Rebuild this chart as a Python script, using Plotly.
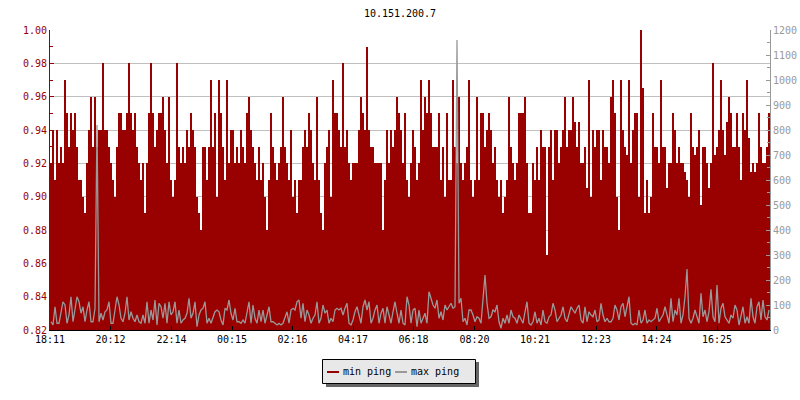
import plotly.graph_objects as go

# ---------------- data ----------------
title_text = "10.151.200.7"
start_label = "18:11"
step_minutes = 4

min_ping = [
    0.92, 0.94, 0.91, 0.94, 0.92, 0.93, 0.92, 0.97, 0.95, 0.93,
    0.95, 0.94, 0.95, 0.93, 0.91, 0.91, 0.90, 0.89, 0.92, 0.94,
    0.96, 0.93, 0.96, 0.93, 0.94, 0.94, 0.98, 0.94, 0.94, 0.93,
    0.92, 0.91, 0.90, 0.93, 0.95, 0.95, 0.94, 0.94, 0.95, 0.98,
    0.95, 0.94, 0.95, 0.93, 0.92, 0.91, 0.92, 0.89, 0.92, 0.95,
    0.98, 0.95, 0.93, 0.94, 0.95, 0.95, 0.96, 0.94, 0.92, 0.96,
    0.91, 0.90, 0.91, 0.98, 0.93, 0.92, 0.93, 0.92, 0.94, 0.93,
    0.95, 0.94, 0.93, 0.90, 0.89, 0.88, 0.93, 0.93, 0.91, 0.93,
    0.97, 0.93, 0.95, 0.90, 0.97, 0.95, 0.93, 0.91, 0.97, 0.92,
    0.94, 0.94, 0.92, 0.93, 0.92, 0.94, 0.93, 0.92, 0.95, 0.96,
    0.94, 0.93, 0.92, 0.91, 0.93, 0.91, 0.92, 0.90, 0.88, 0.91,
    0.95, 0.93, 0.92, 0.91, 0.92, 0.93, 0.96, 0.93, 0.92, 0.91,
    0.94, 0.90, 0.91, 0.89, 0.91, 0.91, 0.93, 0.94, 0.93, 0.95,
    0.94, 0.92, 0.91, 0.96, 0.91, 0.89, 0.88, 0.92, 0.93, 0.94,
    0.90, 0.97, 0.95, 0.95, 0.94, 0.93, 0.98, 0.93, 0.94, 0.92,
    0.91, 0.92, 0.92, 0.92, 0.94, 0.96, 0.95, 0.94, 0.99, 0.94,
    0.93, 0.93, 0.92, 0.92, 0.92, 0.92, 0.88, 0.91, 0.94, 0.92,
    0.94, 0.93, 0.94, 0.96, 0.95, 0.94, 0.92, 0.95, 0.91, 0.90,
    0.92, 0.94, 0.93, 0.91, 0.92, 0.97, 0.94, 0.96, 0.95, 0.97,
    0.95, 0.93, 0.93, 0.93, 0.95, 0.91, 0.93, 0.90, 0.95, 0.91,
    0.91, 0.97, 0.93, 0.92, 0.96, 0.92, 0.91, 0.92, 0.93, 0.97,
    0.91, 0.90, 0.91, 0.96, 0.91, 0.95, 0.95, 0.93, 0.94, 0.95,
    0.94, 0.92, 0.93, 0.91, 0.90, 0.91, 0.89, 0.90, 0.91, 0.96,
    0.93, 0.92, 0.91, 0.92, 0.95, 0.95, 0.95, 0.96, 0.92, 0.89,
    0.89, 0.92, 0.91, 0.93, 0.91, 0.94, 0.93, 0.93, 0.865, 0.93,
    0.94, 0.91, 0.94, 0.94, 0.92, 0.93, 0.94, 0.96, 0.93, 0.94,
    0.94, 0.96, 0.945, 0.93, 0.945, 0.92, 0.92, 0.93, 0.905, 0.97,
    0.90, 0.94, 0.93, 0.94, 0.94, 0.91, 0.94, 0.93, 0.93, 0.92,
    0.96, 0.97, 0.95, 0.90, 0.88, 0.97, 0.94, 0.93, 0.925, 0.97,
    0.92, 0.94, 0.95, 0.95, 0.90, 1.00, 0.965, 0.89, 0.91, 0.89,
    0.90, 0.95, 0.93, 0.93, 0.92, 0.97, 0.93, 0.93, 0.905, 0.92,
    0.92, 0.95, 0.94, 0.92, 0.93, 0.92, 0.92, 0.915, 0.91, 0.90,
    0.95, 0.93, 0.925, 0.93, 0.94, 0.895, 0.93, 0.93, 0.92, 0.905,
    0.92, 0.98, 0.925, 0.93, 0.94, 0.97, 0.94, 0.925, 0.945, 0.96,
    0.95, 0.93, 0.93, 0.95, 0.93, 0.91, 0.95, 0.94, 0.97, 0.935,
    0.915, 0.92, 0.915, 0.92, 0.95, 0.93, 0.92, 0.92, 0.93, 0.95,
]

max_ping = [
    33, 20, 93, 27, 27, 67, 113, 100, 27, 60,
    133, 33, 80, 133, 113, 67, 93, 33, 80, 113,
    33, 33, 87, 820, 33, 67, 40, 73, 80, 113,
    27, 27, 80, 133, 100, 47, 33, 67, 133, 40,
    73, 47, 33, 60, 33, 27, 60, 27, 113, 27,
    80, 40, 120, 20, 107, 93, 47, 107, 27, 113,
    60, 73, 113, 27, 80, 27, 40, 47, 67, 127,
    47, 67, 113, 13, 60, 80, 87, 113, 27, 47,
    27, 47, 73, 80, 73, 40, 20, 87, 80, 120,
    67, 40, 87, 33, 33, 27, 40, 27, 67, 113,
    27, 100, 47, 27, 80, 33, 80, 27, 60, 93,
    33, 33, 27, 20, 27, 20, 27, 47, 73, 27,
    80, 87, 80, 113, 120, 47, 107, 33, 80, 60,
    27, 47, 60, 113, 27, 47, 100, 67, 80, 27,
    47, 33, 80, 87, 80, 87, 60, 87, 107, 27,
    20, 40, 73, 93, 53, 27, 93, 120, 80, 113,
    27, 47, 80, 100, 27, 67, 87, 27, 93, 53,
    27, 73, 113, 67, 27, 80, 27, 20, 133, 100,
    27, 80, 87, 13, 80, 27, 47, 67, 27, 153,
    127, 100, 87, 120, 47, 73, 40, 100, 80, 93,
    107, 87, 93, 1160, 107, 127, 33, 47, 20, 80,
    80, 60, 33, 53, 47, 27, 136, 220, 107, 47,
    53, 80, 73, 100, 33, 7, 47, 27, 60, 27,
    80, 53, 47, 27, 60, 40, 27, 73, 113, 27,
    20, 33, 73, 27, 47, 20, 80, 33, 27, 53,
    60, 107, 80, 33, 47, 60, 93, 47, 33, 60,
    93, 80, 67, 87, 100, 40, 27, 93, 33, 73,
    60, 53, 80, 33, 40, 107, 60, 33, 47, 33,
    33, 47, 100, 80, 40, 93, 107, 53, 87, 133,
    27, 20, 27, 20, 80, 27, 40, 80, 27, 40,
    33, 40, 47, 87, 33, 47, 60, 93, 53, 27,
    127, 33, 80, 60, 127, 27, 60, 133, 244, 47,
    27, 47, 80, 53, 27, 147, 53, 80, 33, 73,
    163, 53, 33, 180, 27, 87, 107, 53, 40, 27,
    60, 47, 100, 80, 20, 60, 93, 27, 53, 27,
    127, 53, 27, 93, 113, 40, 120, 53, 40, 80,
]

tick_labels = ["18:11", "20:12", "22:14", "00:15", "02:16", "04:17",
               "06:18", "08:20", "10:21", "12:23", "14:24", "16:25"]

series_names = ["min ping", "max ping"]
left_range = [0.82, 1.00]
right_range = [0, 1200]
total_minutes = 1440

# ---------------- helpers ----------------
def to_min(lbl):
    h, m = lbl.split(":")
    return int(h) * 60 + int(m)

start = to_min(start_label)
tick_vals = [(to_min(t) - start) % 1440 for t in tick_labels]
x_vals = [step_minutes * i + step_minutes / 2 for i in range(len(min_ping))]

RED = "#990000"
GRAY = "#999999"
FONT = "DejaVu Sans Mono"

fig = go.Figure()
fig.add_trace(go.Bar(
    x=x_vals, y=min_ping, name=series_names[0], width=step_minutes,
    marker=dict(color=RED, line=dict(width=0)), showlegend=False,
    hoverinfo="skip",
))
fig.add_trace(go.Scatter(
    x=x_vals, y=max_ping, name=series_names[1], yaxis="y2", mode="lines",
    line=dict(color=GRAY, width=1.3), showlegend=False, hoverinfo="skip",
))

L, R, T, B = 50, 30, 30, 70
W, H = 800, 400
pw, ph = W - L - R, H - T - B

def px(x):
    return (x - L) / pw

def py(y):
    return (H - B - y) / ph

shapes = [
    # legend shadow
    dict(type="rect", xref="paper", yref="paper", layer="above",
         x0=px(326), x1=px(479), y0=py(387), y1=py(362),
         fillcolor="#666666", line=dict(width=0)),
    # legend box
    dict(type="rect", xref="paper", yref="paper", layer="above",
         x0=px(322.5), x1=px(475.5), y0=py(383.5), y1=py(359.5),
         fillcolor="#e8e8e8", line=dict(color="black", width=1)),
    dict(type="line", xref="paper", yref="paper", layer="above",
         x0=px(327), x1=px(339), y0=py(372), y1=py(372),
         line=dict(color=RED, width=2)),
    dict(type="line", xref="paper", yref="paper", layer="above",
         x0=px(395), x1=px(407), y0=py(372), y1=py(372),
         line=dict(color=GRAY, width=2)),
]
annotations = [
    dict(text=series_names[0], xref="paper", yref="paper", x=px(341), y=py(371.5),
         xanchor="left", yanchor="middle", showarrow=False,
         font=dict(family=FONT, size=10, color="black")),
    dict(text=series_names[1], xref="paper", yref="paper", x=px(409), y=py(371.5),
         xanchor="left", yanchor="middle", showarrow=False,
         font=dict(family=FONT, size=10, color="black")),
]

fig.update_layout(
    width=W, height=H,
    margin=dict(l=L, r=R, t=T, b=B, pad=0, autoexpand=False),
    paper_bgcolor="white", plot_bgcolor="white",
    bargap=0,
    showlegend=False,
    font=dict(family=FONT, size=10, color="black"),
    title=dict(text=title_text, x=0.5, xanchor="center", y=1 - 13 / H,
               yanchor="middle", font=dict(family=FONT, size=10, color="black")),
    xaxis=dict(
        range=[0, total_minutes], tickvals=tick_vals, ticktext=tick_labels,
        showgrid=False, zeroline=False, showline=True, linecolor="black",
        linewidth=1, ticks="inside", ticklen=4, tickcolor="black",
        automargin=False,
        tickfont=dict(family=FONT, size=10, color="black"),
    ),
    yaxis=dict(
        range=left_range, dtick=0.02, tick0=0.82, tickformat=".2f",
        showgrid=True, gridcolor="#c0c0c0", gridwidth=1, zeroline=False,
        showline=True, linecolor=RED, linewidth=1,
        ticks="inside", ticklen=4, tickcolor=RED, automargin=False,
        minor=dict(dtick=0.01, tick0=0.82, ticks="inside", ticklen=3,
                   tickcolor=RED, showgrid=False),
        tickfont=dict(family=FONT, size=10, color=RED),
    ),
    yaxis2=dict(
        range=right_range, dtick=100, overlaying="y", side="right",
        showgrid=False, zeroline=False, showline=True, linecolor=GRAY,
        linewidth=1, ticks="inside", ticklen=4, tickcolor=GRAY,
        automargin=False,
        minor=dict(dtick=50, ticks="inside", ticklen=3, tickcolor=GRAY,
                   showgrid=False),
        tickfont=dict(family=FONT, size=10, color=GRAY),
    ),
    shapes=shapes,
    annotations=annotations,
)

fig.write_html(
    "out.html",
    config={"displayModeBar": False},
    post_script="document.body.style.margin='0';document.body.style.overflow='hidden';",
)
